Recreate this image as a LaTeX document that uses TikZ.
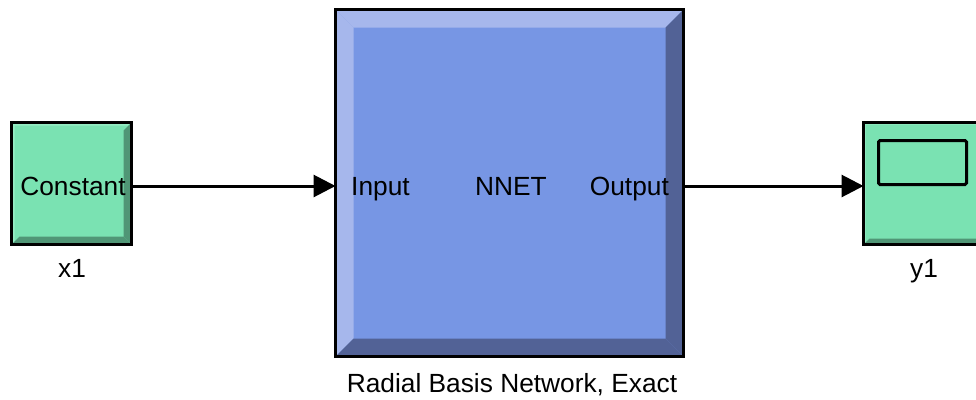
\documentclass[tikz,border=0pt]{standalone}
\usepackage{fontspec}
\setmainfont{Liberation Sans}
\usetikzlibrary{arrows.meta,calc}
\definecolor{gmain}{RGB}{122,226,178}
\definecolor{glight}{RGB}{150,236,196}
\definecolor{gdark}{RGB}{80,150,118}
\definecolor{bmain}{RGB}{119,150,228}
\definecolor{blight}{RGB}{166,183,236}
\definecolor{bdark}{RGB}{82,98,150}
\tikzset{
  blk/.style={draw=black, line width=3pt, inner sep=0pt, outer sep=0pt, rectangle},
  bevel/.style n args={4}{path picture={
    \coordinate (nw) at (path picture bounding box.north west);
    \coordinate (ne) at (path picture bounding box.north east);
    \coordinate (sw) at (path picture bounding box.south west);
    \coordinate (se) at (path picture bounding box.south east);
    \fill[#1] (nw) -- (ne) -- ($(ne)+(-#3,#3)$) -- ($(nw)+(#3,#3)$) -- cycle;
    \fill[#1] (nw) -- ($(nw)+(#3,#3)$) -- ($(sw)+(#3,-#3)$) -- (sw) -- cycle;
    \fill[#2] (ne) -- (se) -- ($(se)+(-#4,-#4)$) -- ($(ne)+(-#4,#4)$) -- cycle;
    \fill[#2] (sw) -- (se) -- ($(se)+(-#4,-#4)$) -- ($(sw)+(#4,-#4)$) -- cycle;
  }},
  lbl/.style={font=\fontsize{26.3}{31}\selectfont, inner sep=0pt, anchor=base, text=black},
  wire/.style={line width=3pt, -{Triangle[length=22pt,width=22pt]}}
}
\begin{document}
\begin{tikzpicture}[x=1pt,y=-1pt]
\useasboundingbox (0,0) rectangle (976,399);
\clip (0,0) rectangle (976,399);
% Constant block
\node[blk, fill=gmain, minimum width=120pt, minimum height=122pt,
  bevel={glight}{gdark}{3}{8}] (c) at (71.5,183.5) {};
% NNET block
\node[blk, fill=bmain, minimum width=348pt, minimum height=347pt,
  bevel={blight}{bdark}{18}{18}] (nn) at (509.5,183) {};
% Scope block
\node[blk, fill=gmain, minimum width=122pt, minimum height=122pt,
  bevel={glight}{gdark}{2}{6}] (sc) at (924.5,183.5) {};
\node[draw=black, line width=3pt, rounded corners=1.5pt, minimum width=88pt, minimum height=44pt, inner sep=0pt, outer sep=0pt] (scr) at (922.5,162.5) {};
% texts
\node[lbl] (tc) at (73,195) {Constant};
\node[lbl] (tx1) at (72,277) {x1};
\node[lbl, anchor=base west] (tin) at (351,195) {Input};
\node[lbl] (tnn) at (511,195) {NNET};
\node[lbl, anchor=base east] (tout) at (669,195) {Output};
\node[lbl] (trb) at (512,392) {Radial Basis Network, Exact};
\node[lbl] (ty1) at (924,277) {y1};
% connectors
\draw[wire] ([yshift=-2.5pt]c.east) -- ([yshift=-3pt]nn.west);
\draw[wire] ([yshift=-3pt]nn.east) -- ([yshift=-2.5pt]sc.west);
\end{tikzpicture}
\end{document}
